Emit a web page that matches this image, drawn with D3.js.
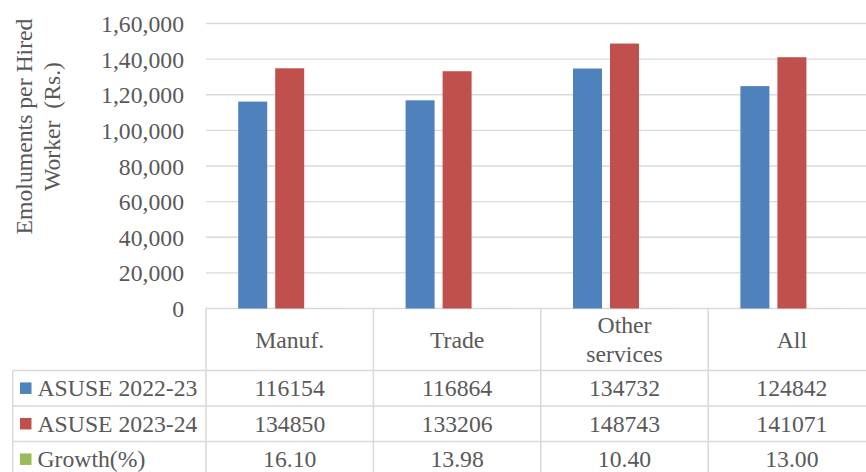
<!DOCTYPE html>
<html>
<head>
<meta charset="utf-8">
<script src="https://cdnjs.cloudflare.com/ajax/libs/d3/7.8.5/d3.min.js"></script>
<style>
  html, body { margin: 0; padding: 0; background: #fff; }
  svg { display: block; }
  text { font-family: "Liberation Serif", "Times New Roman", serif; fill: #595959; }
</style>
</head>
<body>
<svg id="chart" width="866" height="472" font-family="Liberation Serif, serif"></svg>
<script>
// ---- data ----
const categories = ["Manuf.", "Trade", "Other services", "All"];
const categoryLines = [["Manuf."], ["Trade"], ["Other", "services"], ["All"]];
const seriesNames = ["ASUSE 2022-23", "ASUSE 2023-24", "Growth(%)"];
const asuse2223 = [116154, 116864, 134732, 124842];
const asuse2324 = [134850, 133206, 148743, 141071];
const growth = [16.10, 13.98, 10.40, 13.00];
const growthLabels = ["16.10", "13.98", "10.40", "13.00"];
const tickValues = [0, 20000, 40000, 60000, 80000, 100000, 120000, 140000, 160000];
const tickLabels = ["0", "20,000", "40,000", "60,000", "80,000", "1,00,000", "1,20,000", "1,40,000", "1,60,000"];
const colors = ["#4f81bd", "#c0504d", "#9bbb59"];
const yTitle = ["Emoluments per Hired", "Worker  (Rs.)"];

const seriesValues = [asuse2223, asuse2324, growth];
const seriesLabels = [asuse2223.map(String), asuse2324.map(String), growthLabels];

// ---- layout ----
const svg = d3.select("#chart");
const plotLeft = 206, catW = 167.4;
const plotTop = 23.5, plotBottom = 308.5;
const rowH = 35.5, headerBottom = 370.5;
const legendLeft = 12.7;
const fs = 23.7;
const gridColor = "#d9d9d9";

const x0 = d3.scaleBand().domain(categories).range([plotLeft, plotLeft + catW * categories.length]).padding(0);
const x1 = d3.scaleBand().domain(seriesNames).range([32.2, 135.2]).paddingInner(8 / 37).paddingOuter(0);
const y = d3.scaleLinear().domain([0, 160000]).range([plotBottom, plotTop]);

// axis labels
const yAxis = d3.axisLeft(y).tickValues(tickValues)
  .tickFormat((d, i) => tickLabels[i])
  .tickSize(0).tickPadding(0);
const gAxis = svg.append("g").attr("transform", `translate(184,0)`).call(yAxis)
  .attr("font-family", "Liberation Serif, serif");
gAxis.select(".domain").remove();
gAxis.selectAll("text").attr("font-size", fs).attr("fill", "#595959").attr("dy", "0.34em").attr("x", 0);

// gridlines
svg.append("g").selectAll("line").data(tickValues).join("line")
  .attr("x1", plotLeft).attr("x2", 866)
  .attr("y1", d => y(d)).attr("y2", d => y(d))
  .attr("stroke", gridColor).attr("stroke-width", 1.3);

// bars
const gBars = svg.append("g");
seriesValues.forEach((vals, si) => {
  gBars.selectAll(null).data(vals).join("rect")
    .attr("x", (d, i) => x0(categories[i]) + x1(seriesNames[si]))
    .attr("width", x1.bandwidth())
    .attr("y", d => y(d))
    .attr("height", d => y(0) - y(d))
    .attr("fill", colors[si]);
});

// y axis title
const gTitle = svg.append("g").attr("transform", "rotate(-90)");
gTitle.selectAll("text").data(yTitle).join("text")
  .attr("x", -126.5).attr("y", (d, i) => 31.5 + i * 28.5)
  .attr("text-anchor", "middle").attr("font-size", fs)
  .style("white-space", "pre")
  .text(d => d);

// data table
const tableRight = plotLeft + catW * categories.length;
const gT = svg.append("g");
const line = (xa, ya, xb, yb) => gT.append("line").attr("x1", xa).attr("y1", ya).attr("x2", xb).attr("y2", yb)
  .attr("stroke", gridColor).attr("stroke-width", 1.5);

line(legendLeft, headerBottom, tableRight, headerBottom);
for (let r = 1; r <= 3; r++) line(legendLeft, headerBottom + r * rowH, tableRight, headerBottom + r * rowH);
categories.forEach(c => line(x0(c), plotBottom, x0(c), 480));
line(tableRight, plotBottom, tableRight, 480);
line(legendLeft, headerBottom, legendLeft, 480);

// header labels
categories.forEach((c, i) => {
  const cx = x0(c) + x0.bandwidth() / 2;
  const lines = categoryLines[i];
  const center = (plotBottom + headerBottom) / 2;
  lines.forEach((t, li) => {
    const off = (li - (lines.length - 1) / 2) * 29;
    gT.append("text").attr("x", cx).attr("y", center + off + 8)
      .attr("text-anchor", "middle").attr("font-size", fs).text(t);
  });
});

// rows
seriesNames.forEach((s, si) => {
  const cy = headerBottom + si * rowH + rowH / 2;
  gT.append("rect").attr("x", 20).attr("y", cy - 5.8).attr("width", 11.5).attr("height", 11.5).attr("fill", colors[si]);
  gT.append("text").attr("x", 37.5).attr("y", cy + 8).attr("font-size", fs).text(s);
  seriesLabels[si].forEach((v, ci) => {
    gT.append("text").attr("x", x0(categories[ci]) + x0.bandwidth() / 2).attr("y", cy + 8)
      .attr("text-anchor", "middle").attr("font-size", fs).text(v);
  });
});
</script>
</body>
</html>
